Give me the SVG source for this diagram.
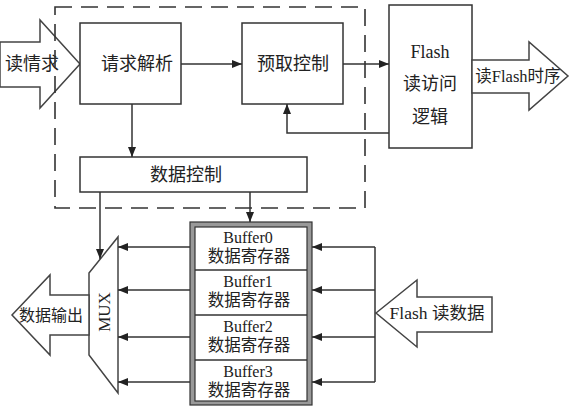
<svg xmlns="http://www.w3.org/2000/svg" width="570" height="409" viewBox="0 0 570 409">
<defs>
<style>
.box{fill:#fff;stroke:#333;stroke-width:1.5}
.blk{fill:#fff;stroke:#444;stroke-width:1.5;stroke-linejoin:miter}
.ln{fill:none;stroke:#333;stroke-width:1.5}
.dash{fill:none;stroke:#333;stroke-width:1.6;stroke-dasharray:17 9}
text{font-family:"Liberation Serif","Noto Sans CJK SC",serif;font-size:18px;fill:#222;text-anchor:middle;dominant-baseline:central}
.bn{font-size:16px}
.bc{font-size:16.5px}
</style>
<marker id="ah" viewBox="0 0 10 8" refX="10" refY="4" markerWidth="10" markerHeight="8" markerUnits="userSpaceOnUse" orient="auto">
<path d="M0,0 L10,4 L0,8 Z" fill="#222"/>
</marker>
</defs>
<rect width="570" height="409" fill="#fff"/>

<g id="in-read-request">
<polygon class="blk" points="0,42 40,42 40,20 80,64 40,108 40,87 0,87"/>
<text x="32" y="64">读情求</text>
</g>

<g id="request-parse">
<rect class="box" x="80" y="23" width="101" height="81"/>
<text x="137" y="64">请求解析</text>
</g>

<g id="prefetch-ctrl">
<rect class="box" x="242" y="23" width="101" height="81"/>
<text x="293" y="64">预取控制</text>
</g>

<g id="flash-logic">
<rect class="box" x="389" y="5" width="83" height="143"/>
<text x="430" y="52">Flash</text>
<text x="430" y="84">读访问</text>
<text x="430" y="117">逻辑</text>
</g>

<g id="out-flash-timing">
<polygon class="blk" points="472,60 529,60 529,42 568,76 529,110 529,93 472,93"/>
<text x="518" y="76" style="font-size:16.5px">读Flash时序</text>
</g>

<g id="data-ctrl">
<rect class="box" x="80" y="157" width="227" height="35"/>
<text x="186" y="175">数据控制</text>
</g>

<g id="mux">
<polygon class="blk" points="89,273 118,237 118,393 89,355"/>
<text x="104" y="312" transform="rotate(-90 104 312)" style="font-size:17px">MUX</text>
</g>

<g id="out-data">
<polygon class="blk" points="12,315 50,275 50,295 89,295 89,335 50,335 50,355"/>
<text x="51" y="315" style="font-size:16px">数据输出</text>
</g>

<g id="buffers">
<rect x="190" y="222" width="122" height="183" fill="#999" stroke="#333" stroke-width="1.2"/>
<rect x="195" y="227" width="112" height="174" fill="#fff" stroke="#333" stroke-width="1.2"/>
<line class="ln" x1="195" y1="270" x2="307" y2="270"/>
<line class="ln" x1="195" y1="315" x2="307" y2="315"/>
<line class="ln" x1="195" y1="360" x2="307" y2="360"/>
<text class="bn" x="248" y="237">Buffer0</text>
<text class="bc" x="249" y="256">数据寄存器</text>
<text class="bn" x="248" y="281">Buffer1</text>
<text class="bc" x="249" y="300">数据寄存器</text>
<text class="bn" x="248" y="326">Buffer2</text>
<text class="bc" x="249" y="345">数据寄存器</text>
<text class="bn" x="248" y="371">Buffer3</text>
<text class="bc" x="249" y="390">数据寄存器</text>
</g>

<g id="in-flash-data">
<polygon class="blk" points="376,313 417,280 417,297 492,297 492,332 417,332 417,347"/>
<text x="437" y="313" style="font-size:17.5px">Flash 读数据</text>
</g>

<g id="connectors">
<line class="ln" x1="181" y1="64" x2="242" y2="64" marker-end="url(#ah)"/>
<line class="ln" x1="343" y1="64" x2="389" y2="64" marker-end="url(#ah)"/>
<polyline class="ln" points="389,133 287,133 287,104" marker-end="url(#ah)"/>
<line class="ln" x1="132" y1="104" x2="132" y2="157" marker-end="url(#ah)"/>
<line class="ln" x1="100" y1="192" x2="100" y2="259" marker-end="url(#ah)"/>
<line class="ln" x1="250" y1="192" x2="250" y2="222" marker-end="url(#ah)"/>
<line class="ln" x1="190" y1="247" x2="118" y2="247" marker-end="url(#ah)"/>
<line class="ln" x1="190" y1="290" x2="118" y2="290" marker-end="url(#ah)"/>
<line class="ln" x1="190" y1="337" x2="118" y2="337" marker-end="url(#ah)"/>
<line class="ln" x1="190" y1="382" x2="118" y2="382" marker-end="url(#ah)"/>
<polyline class="ln" points="375,247 375,382"/>
<line class="ln" x1="375" y1="247" x2="312" y2="247" marker-end="url(#ah)"/>
<line class="ln" x1="375" y1="290" x2="312" y2="290" marker-end="url(#ah)"/>
<line class="ln" x1="375" y1="337" x2="312" y2="337" marker-end="url(#ah)"/>
<line class="ln" x1="375" y1="382" x2="312" y2="382" marker-end="url(#ah)"/>
</g>

<g id="boundary">
<rect class="dash" x="55" y="7" width="310" height="201"/>
</g>
</svg>
